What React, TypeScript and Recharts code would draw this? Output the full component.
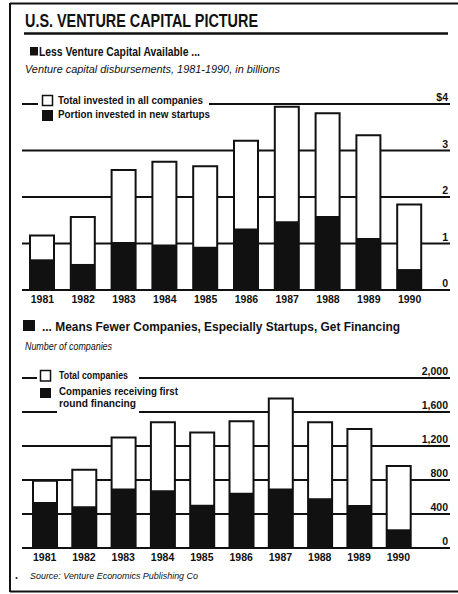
import React from 'react';
import { BarChart, Bar, XAxis, YAxis, CartesianGrid } from 'recharts';

const years = ['1981', '1982', '1983', '1984', '1985', '1986', '1987', '1988', '1989', '1990'];

// Venture capital disbursements, billions of dollars
const totalInvested = [1.17, 1.57, 2.58, 2.76, 2.66, 3.21, 3.94, 3.8, 3.33, 1.84];
const startupInvested = [0.66, 0.56, 1.03, 0.98, 0.93, 1.32, 1.48, 1.59, 1.12, 0.45];
const capitalTicks = [0, 1, 2, 3, 4];
const capitalTickLabels = ['0', '1', '2', '3', '$4'];

// Number of companies
const totalCompanies = [790, 920, 1300, 1480, 1360, 1490, 1760, 1480, 1400, 965];
const firstRoundCompanies = [540, 490, 700, 680, 510, 650, 700, 585, 505, 220];
const companyTicks = [0, 400, 800, 1200, 1600, 2000];
const companyTickLabels = ['0', '400', '800', '1,200', '1,600', '2,000'];

const FONT = "'Liberation Sans', Arial, sans-serif";
const INK = '#111';

const capitalData = years.map((y, i) => ({ year: y, total: totalInvested[i], startups: startupInvested[i] }));
const companyData = years.map((y, i) => ({ year: y, total: totalCompanies[i], first: firstRoundCompanies[i] }));

const YearTick = (props: any) => {
  const { x, y, payload } = props;
  return (
    <text x={x} y={y + 13} textAnchor="middle" fontSize={10.5} fontWeight="bold" fill={INK} fontFamily={FONT}>
      {payload.value}
    </text>
  );
};

const makeRightTick = (ticks: number[], labels: string[]) => (props: any) => {
  const { x, y, payload } = props;
  const i = ticks.indexOf(payload.value);
  return (
    <text x={x - 2} y={y - 3} textAnchor="end" fontSize={10.5} fontWeight="bold" fill={INK} fontFamily={FONT}>
      {i >= 0 ? labels[i] : payload.value}
    </text>
  );
};

const CapitalTick = makeRightTick(capitalTicks, capitalTickLabels);
const CompanyTick = makeRightTick(companyTicks, companyTickLabels);

export default function App() {
  return (
    <div style={{ position: 'absolute', left: 0, top: 0, width: 458, height: 594, background: '#fff', overflow: 'hidden' }}>
      <div style={{ position: 'absolute', left: 0, top: 0 }}>
        <BarChart
          width={458}
          height={320}
          data={capitalData}
          margin={{ top: 104, right: 7, bottom: 10, left: 22 }}
          barGap={-24}
        >
          <CartesianGrid vertical={false} stroke={INK} strokeWidth={2} />
          <XAxis
            dataKey="year"
            height={20}
            axisLine={false}
            tickLine={false}
            tickSize={0}
            tickMargin={0}
            interval={0}
            padding={{ left: 0, right: 20 }}
            tick={<YearTick />}
          />
          <YAxis
            orientation="right"
            width={1}
            domain={[0, 4]}
            ticks={capitalTicks}
            axisLine={false}
            tickLine={false}
            tickSize={0}
            tickMargin={0}
            tick={<CapitalTick />}
          />
          <Bar dataKey="total" barSize={24} fill="#fff" stroke={INK} strokeWidth={2} isAnimationActive={false} />
          <Bar dataKey="startups" barSize={24} fill={INK} isAnimationActive={false} />
        </BarChart>
      </div>
      <div style={{ position: 'absolute', left: 0, top: 300 }}>
        <BarChart
          width={458}
          height={280}
          data={companyData}
          margin={{ top: 78, right: 7, bottom: 12, left: 22 }}
          barGap={-24}
        >
          <CartesianGrid vertical={false} stroke={INK} strokeWidth={2} />
          <XAxis
            dataKey="year"
            height={20}
            axisLine={false}
            tickLine={false}
            tickSize={0}
            tickMargin={0}
            interval={0}
            padding={{ left: 3, right: 32 }}
            tick={<YearTick />}
          />
          <YAxis
            orientation="right"
            width={1}
            domain={[0, 2000]}
            ticks={companyTicks}
            axisLine={false}
            tickLine={false}
            tickSize={0}
            tickMargin={0}
            tick={<CompanyTick />}
          />
          <Bar dataKey="total" barSize={24} fill="#fff" stroke={INK} strokeWidth={2} isAnimationActive={false} />
          <Bar dataKey="first" barSize={24} fill={INK} isAnimationActive={false} />
        </BarChart>
      </div>
      <svg
        width={458}
        height={594}
        style={{ position: 'absolute', left: 0, top: 0, pointerEvents: 'none' }}
        fontFamily={FONT}
      >
        {/* frame */}
        <line x1={10} y1={3.5} x2={458} y2={3.5} stroke={INK} strokeWidth={2} />
        <line x1={10} y1={3} x2={10} y2={592} stroke={INK} strokeWidth={2} />
        <line x1={10} y1={591.5} x2={458} y2={591.5} stroke={INK} strokeWidth={2} />

        {/* title */}
        <text x={25} y={27} fontSize={19} fontWeight="bold" fill={INK} textLength={233} lengthAdjust="spacingAndGlyphs">
          U.S. VENTURE CAPITAL PICTURE
        </text>
        <line x1={24} y1={33.5} x2={448} y2={33.5} stroke={INK} strokeWidth={2.5} />

        {/* section 1 header */}
        <rect x={30} y={47} width={8} height={8.5} fill={INK} />
        <text x={39} y={55.5} fontSize={12} fontWeight="bold" fill={INK} textLength={161} lengthAdjust="spacingAndGlyphs">
          Less Venture Capital Available ...
        </text>
        <text x={25} y={72.5} fontSize={11} fontStyle="italic" fill={INK} textLength={255} lengthAdjust="spacingAndGlyphs">
          Venture capital disbursements, 1981-1990, in billions
        </text>

        {/* legend 1 */}
        <rect x={38} y={94} width={171} height={29} fill="#fff" />
        <rect x={42.5} y={95.5} width={10} height={10} fill="#fff" stroke={INK} strokeWidth={1.5} />
        <text x={58} y={104} fontSize={10} fontWeight="bold" fill={INK} textLength={145} lengthAdjust="spacingAndGlyphs">
          Total invested in all companies
        </text>
        <rect x={42} y={110} width={11} height={11} fill={INK} />
        <text x={58} y={118} fontSize={10} fontWeight="bold" fill={INK} textLength={152} lengthAdjust="spacingAndGlyphs">
          Portion invested in new startups
        </text>

        {/* section 2 header */}
        <rect x={23} y={320} width={12} height={11} fill={INK} />
        <text x={42} y={331} fontSize={12.5} fontWeight="bold" fill={INK} textLength={358} lengthAdjust="spacingAndGlyphs">
          ... Means Fewer Companies, Especially Startups, Get Financing
        </text>
        <text x={25} y={350} fontSize={11.5} fontStyle="italic" fill={INK} textLength={87} lengthAdjust="spacingAndGlyphs">
          Number of companies
        </text>

        {/* legend 2 */}
        <rect x={37} y={366} width={102} height={33} fill="#fff" />
        <rect x={57} y={399} width={82} height={16} fill="#fff" />
        <rect x={40.5} y={370.5} width={10} height={10.5} fill="#fff" stroke={INK} strokeWidth={1.5} />
        <text x={59} y={379} fontSize={10} fontWeight="bold" fill={INK} textLength={69} lengthAdjust="spacingAndGlyphs">
          Total companies
        </text>
        <rect x={40} y={388} width={11} height={10} fill={INK} />
        <text x={59} y={395} fontSize={10} fontWeight="bold" fill={INK} textLength={119} lengthAdjust="spacingAndGlyphs">
          Companies receiving first
        </text>
        <text x={59} y={407} fontSize={10} fontWeight="bold" fill={INK} textLength={77} lengthAdjust="spacingAndGlyphs">
          round financing
        </text>

        {/* source */}
        <circle cx={16.5} cy={578} r={1} fill={INK} />
        <text x={30} y={579} fontSize={9} fontStyle="italic" fill={INK} textLength={168} lengthAdjust="spacingAndGlyphs">
          Source: Venture Economics Publishing Co
        </text>
      </svg>
    </div>
  );
}
